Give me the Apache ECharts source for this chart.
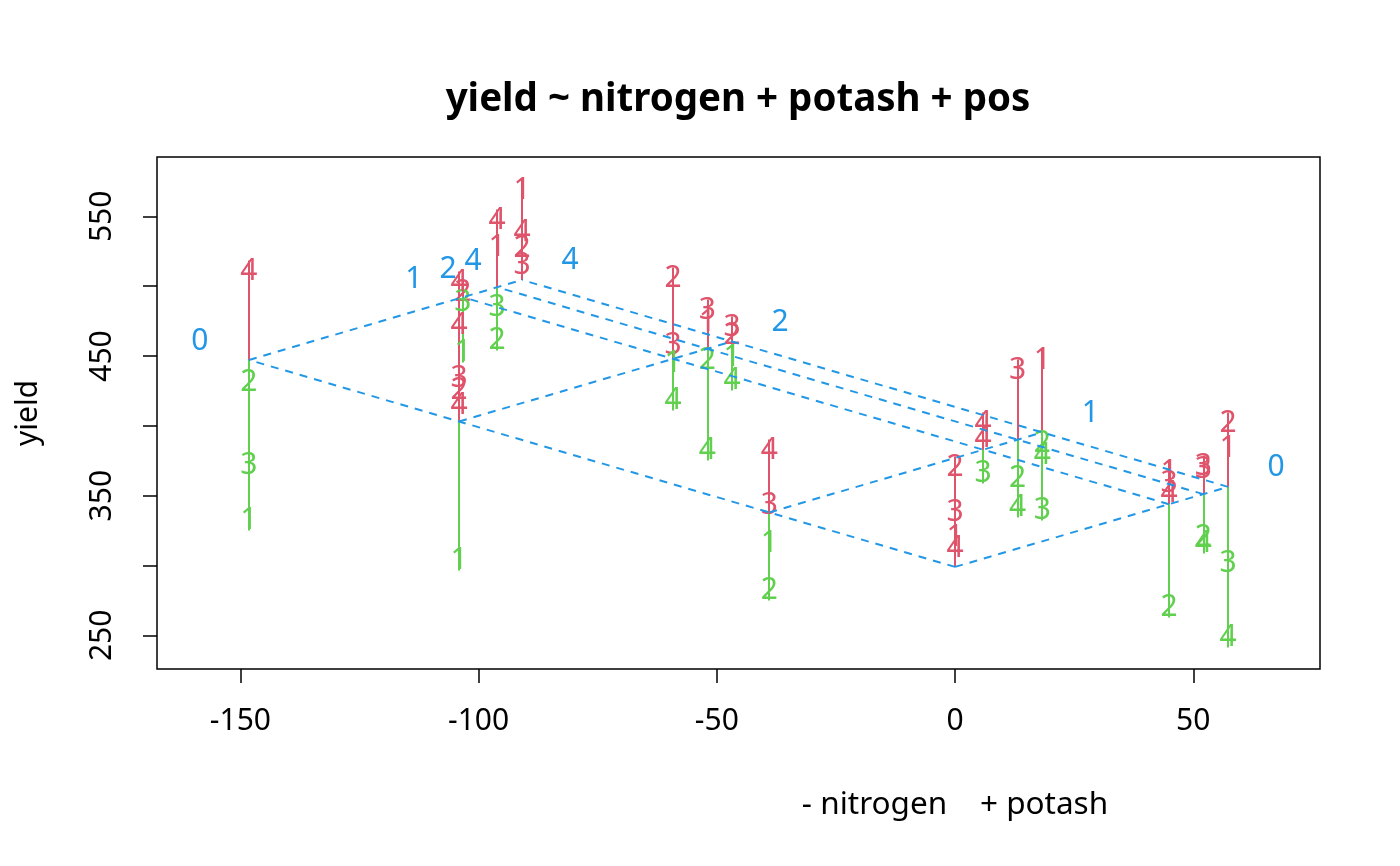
<!DOCTYPE html>
<html>
<head>
<meta charset="utf-8">
<script src="https://cdn.jsdelivr.net/npm/echarts@6/dist/echarts.min.js"></script>
<style>
html, body { margin: 0; padding: 0; background: #fff; }
#chart { width: 1400px; height: 866px; }
</style>
</head>
<body>
<div id="chart"></div>
<script>
// fitted additive effects
var nitrogenLevels = ['0', '1', '2', '4'];
var nitrogenEffect = [0, 39.0, 104.1, 148.2];
var potashLevels = ['0', '1', '2', '4'];
var potashEffect = [0, 44.9, 52.1, 57.3];
var baseYield = 299;

// observations, grouped by node (nitrogen, potash)
var obsNitrogen = [
    '4','4','4','4',  '4','4','4',  '4','4','4','4',  '4','4','4','4',
    '2','2','2','2','2','2',  '2','2','2','2',  '2','2','2','2',  '2','2','2','2',
    '1','1','1','1',  '1','1','1',  '1','1','1',  '1','1','1','1',
    '0','0','0','0',  '0','0','0','0',  '0','0','0','0',  '0','0','0','0'
];
var obsPotash = [
    '0','0','0','0',  '1','1','1',  '2','2','2','2',  '4','4','4','4',
    '0','0','0','0','0','0',  '1','1','1','1',  '2','2','2','2',  '4','4','4','4',
    '0','0','0','0',  '1','1','1',  '2','2','2',  '4','4','4','4',
    '0','0','0','0',  '1','1','1','1',  '2','2','2','2',  '4','4','4','4'
];
var obsPos = [
    4,2,3,1,  2,3,1,  4,1,3,2,  1,4,2,3,
    4,4,3,2,4,1,  2,3,1,4,  3,1,2,4,  3,2,1,4,
    4,3,1,2,  4,4,3,  3,2,4,  1,2,4,3,
    2,3,1,4,  1,3,4,2,  3,3,2,4,  2,1,3,4
];
var obsYield = [
    518.4,423.9,364.4,325.1,  503.3,481.1,445.3,  554.9,535.6,477.6,453.9,  576.4,546.3,534.8,522.7,
    510.5,479.7,441.8,433.2,422.4,296.4,  513.4,465.4,437.5,411.0,  490.5,481.9,439.6,375.2,  478.3,472.6,441.1,425.3,
    390.2,350.8,308.6,274.9,  409.5,398.8,358.7,  447.5,355.1,334.4,  454.7,380.2,371.6,332.2,
    378.0,345.8,327.9,320.0,  374.5,366.6,359.4,262.8,  378.8,376.6,312.9,308.6,  409.5,391.6,294.3,241.3
];

var xTicks = [-150, -100, -50, 0, 50];
var yTicks = [250, 300, 350, 400, 450, 500, 550];
var yTickLabels = [250, 350, 450, 550];

var RED = '#DF536B', GREEN = '#61D04F', BLUE = '#2297E6';
var FONT = 'Noto Sans';

function nodeOf(n, p) {
    var ne = nitrogenEffect[nitrogenLevels.indexOf(n)];
    var pe = potashEffect[potashLevels.indexOf(p)];
    return [pe - ne, baseYield + ne + pe];
}

var series = [];

// residual segments and position labels
var segData = [], labelData = [];
obsYield.forEach(function (y, i) {
    var nd = nodeOf(obsNitrogen[i], obsPotash[i]);
    var up = y > nd[1];
    var col = up ? RED : GREEN;
    segData.push({ coords: [[nd[0], nd[1]], [nd[0], y]], lineStyle: { color: col } });
    labelData.push({
        value: [nd[0], y, obsPos[i]],
        label: { color: col, offset: [0, up ? 10.5 : -10.5] }
    });
});

series.push({
    type: 'lines',
    coordinateSystem: 'cartesian2d',
    data: segData,
    lineStyle: { width: 2, opacity: 1 },
    z: 2,
    silent: true
});

series.push({
    type: 'scatter',
    data: labelData,
    symbolSize: 1,
    itemStyle: { color: 'rgba(0,0,0,0)', opacity: 1 },
    label: {
        show: true,
        position: 'inside',
        fontSize: 30,
        fontFamily: FONT,
        formatter: function (p) { return String(p.value[2]); }
    },
    z: 3,
    silent: true
});

// dashed fitted surface
nitrogenLevels.forEach(function (n) {
    series.push({
        type: 'line',
        data: potashLevels.map(function (p) { return nodeOf(n, p); }),
        symbol: 'none',
        lineStyle: { color: BLUE, width: 2, type: [8, 7] },
        z: 5,
        silent: true
    });
});
potashLevels.forEach(function (p) {
    series.push({
        type: 'line',
        data: nitrogenLevels.map(function (n) { return nodeOf(n, p); }),
        symbol: 'none',
        lineStyle: { color: BLUE, width: 2, type: [8, 7] },
        z: 5,
        silent: true
    });
});

// level labels of the two factors
series.push({
    type: 'scatter',
    data: potashLevels.map(function (p) { return { value: nodeOf('4', p), name: p }; }),
    symbolSize: 1,
    itemStyle: { color: 'rgba(0,0,0,0)', opacity: 1 },
    label: { show: true, position: 'inside', offset: [-49, -18], color: BLUE, fontSize: 30, fontFamily: FONT, formatter: '{b}' },
    z: 4,
    silent: true
});
series.push({
    type: 'scatter',
    data: nitrogenLevels.map(function (n) { return { value: nodeOf(n, '4'), name: n }; }),
    symbolSize: 1,
    itemStyle: { color: 'rgba(0,0,0,0)', opacity: 1 },
    label: { show: true, position: 'inside', offset: [48, -19], color: BLUE, fontSize: 30, fontFamily: FONT, formatter: '{b}' },
    z: 4,
    silent: true
});

var option = {
    animation: false,
    backgroundColor: '#fff',
    grid: { left: 157, right: 80, top: 157, bottom: 197, show: true, borderColor: '#000', borderWidth: 1.5, backgroundColor: 'transparent' },
    xAxis: {
        type: 'value', min: -167.5, max: 76.6,
        axisLine: { show: false, onZero: false },
        splitLine: { show: false },
        axisTick: { show: true, customValues: xTicks, length: 14, lineStyle: { color: '#000', width: 1.5 } },
        axisLabel: { customValues: xTicks, color: '#000', fontSize: 30, fontFamily: FONT, margin: 37 }
    },
    yAxis: {
        type: 'value', min: 225.9, max: 592.5,
        axisLine: { show: false, onZero: false },
        splitLine: { show: false },
        axisTick: { show: true, customValues: yTicks, length: 14, lineStyle: { color: '#000', width: 1.5 } },
        axisLabel: { customValues: yTickLabels, rotate: 90, color: '#000', fontSize: 30, fontFamily: FONT, margin: 40 }
    },
    graphic: [
        { type: 'text', x: 738, y: 100, style: { text: 'yield ~ nitrogen + potash + pos', font: 'bold 38.5px "Noto Sans"', fill: '#000', textAlign: 'center', textVerticalAlign: 'middle' } },
        { type: 'text', x: 955, y: 805, style: { text: '- nitrogen    + potash', font: '31.5px "Noto Sans"', fill: '#000', textAlign: 'center', textVerticalAlign: 'middle' } },
        { type: 'text', x: 28, y: 413, rotation: Math.PI / 2, style: { text: 'yield', font: '30px "Noto Sans"', fill: '#000', textAlign: 'center', textVerticalAlign: 'middle' } }
    ],
    series: series
};

var chart = echarts.init(document.getElementById('chart'));
chart.setOption(option);
</script>
</body>
</html>
